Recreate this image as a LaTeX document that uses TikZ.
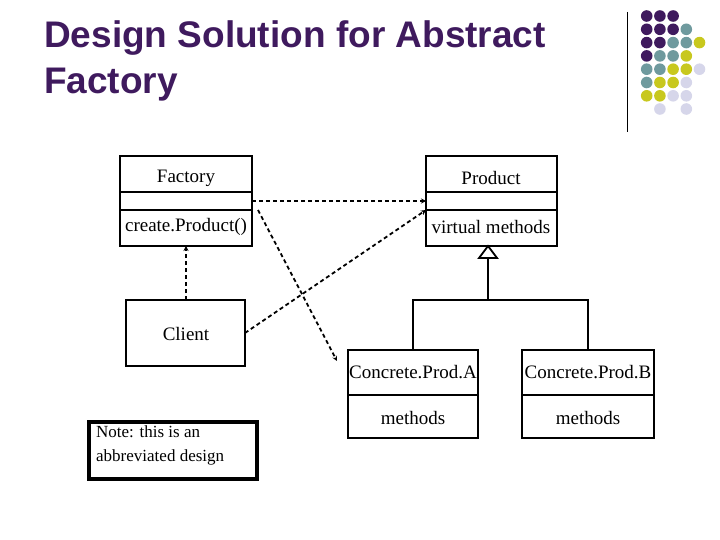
\documentclass[tikz,border=0pt]{standalone}
\usepackage{fontspec}
\usetikzlibrary{arrows.meta}
\setmainfont{Liberation Serif}
\newfontfamily\titlefont{Liberation Sans}
\begin{document}
\begin{tikzpicture}[x=1pt,y=-1pt,
  box/.style={draw,line width=1.8pt},
  lbl/.style={font=\fontsize{19}{23}\selectfont},
  dep/.style={dash pattern=on 4pt off 3pt,line width=1.8pt,-{Stealth[length=5pt,width=5pt]}}]
\useasboundingbox (0,0) rectangle (720,540);
\definecolor{P}{HTML}{3F1A5E}\definecolor{T}{HTML}{6F9A9E}
\definecolor{Y}{HTML}{C8C81E}\definecolor{L}{HTML}{D6D6EA}
\node[anchor=north west,align=left,text=P,inner sep=0pt,font=\titlefont\bfseries\fontsize{37}{46}\selectfont] (title) at (44,20) {Design Solution for Abstract\\Factory};
\draw[line width=1pt] (627,12) -- (627,132);
\foreach \c [count=\r] in {{P,P,P},{P,P,P,T},{P,P,T,T,Y},{P,T,T,Y},{T,T,Y,Y,L},{T,Y,Y,L},{Y,Y,L,L}}{
  \foreach \k [count=\i] in \c { \fill[\k] ({633.5+13.2*\i},{2.7+13.3*\r}) circle (5.8); }}
\fill[L] (659.9,109) circle (5.8); \fill[L] (686.3,109) circle (5.8);
\draw[box] (120,156) rectangle (252,246); \draw[box] (120,192)--(252,192); \draw[box](120,210)--(252,210);
\node[lbl] (f) at (186,178) {Factory};
\node[lbl] (fm) at (186,227) {create.Product()};
\draw[box] (426,156) rectangle (557,246); \draw[box] (426,192)--(557,192); \draw[box](426,210)--(557,210);
\node[lbl] (p) at (491,178) {Product};
\node[lbl] (pm) at (491,227) {virtual methods};
\draw[box] (126,300) rectangle (245,366); \node[lbl] (cl) at (186,334) {Client};
\draw[box] (348,350) rectangle (478,438); \draw[box] (348,395)--(478,395);
\node[lbl] (a) at (413,372) {Concrete.Prod.A}; \node[lbl] (am) at (413,418) {methods};
\draw[box] (522,350) rectangle (654,438); \draw[box] (522,395)--(654,395);
\node[lbl] (b) at (588,372) {Concrete.Prod.B}; \node[lbl] (bm) at (588,418) {methods};
\draw[line width=3.2pt] (89,422) rectangle (257,479);
\node[lbl,align=left,anchor=north west,inner sep=0pt,font=\fontsize{17}{24}\selectfont] (note) at (96,426) {Note: this is an\\abbreviated design};
\coordinate (f1) at (252,201); \coordinate (p1) at (426,201);
\coordinate (c1) at (245,333); \coordinate (p2) at (426,210);
\coordinate (c2) at (186,300); \coordinate (f2) at (186,246);
\coordinate (s) at (258,210); \coordinate (a1) at (337,361);
\draw[dep] (f1) -- (p1); \draw[dep] (c1) -- (p2); \draw[dep] (c2) -- (f2); \draw[dep] (s) -- (a1);
\coordinate (tri) at (488,246);
\draw[line width=1.8pt,fill=white] (tri) -- (479,258) -- (497,258) -- cycle;
\draw[line width=1.8pt] (488,258) -- (488,300) (413,350) |- (588,300) -- (588,350);
\end{tikzpicture}
\end{document}
